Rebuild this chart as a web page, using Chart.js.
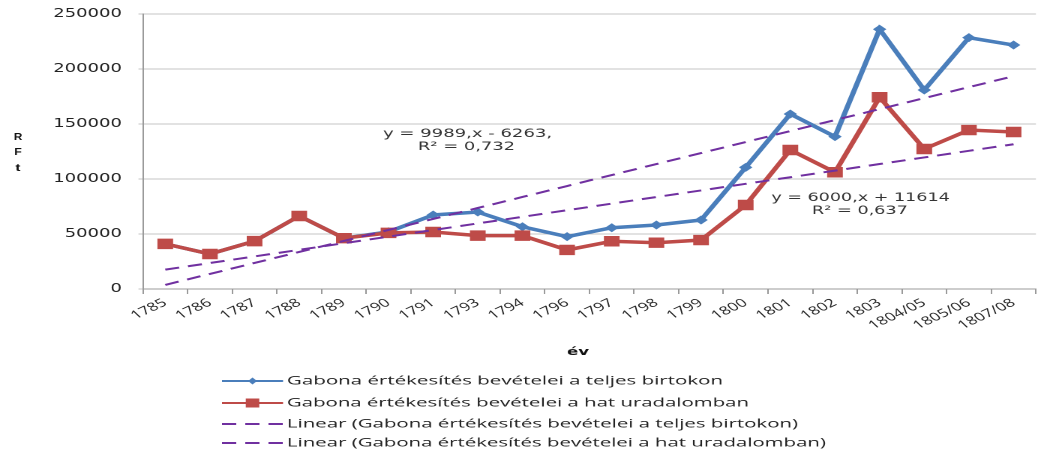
<!DOCTYPE html>
<html>
<head>
<meta charset="utf-8">
<script src="https://cdn.jsdelivr.net/npm/chart.js@4.4.1/dist/chart.umd.min.js"></script>
<style>
  html, body { margin: 0; padding: 0; background: #fff; overflow: hidden; }
  /* the source picture is stretched sideways, so draw narrow and widen */
  #wrap { width: 698px; height: 452px; transform: scaleX(1.5); transform-origin: 0 0; }
</style>
</head>
<body>
<div id="wrap"><canvas id="chart" width="698" height="452"></canvas></div>
<script>
const years = ['1785', '1786', '1787', '1788', '1789', '1790', '1791', '1793', '1794', '1796',
  '1797', '1798', '1799', '1800', '1801', '1802', '1803', '1804/05', '1805/06', '1807/08'];

// Gabona értékesítés bevételei a teljes birtokon
const fullEstate = [41000, 31800, 43500, 66400, 46200, 52000, 67300, 70000, 56600, 47600,
  55700, 58200, 62700, 110600, 159100, 138500, 236100, 180900, 228500, 221800];

// Gabona értékesítés bevételei a hat uradalomban
const sixDomains = [41000, 31800, 43500, 66400, 46200, 51000, 51800, 48500, 48500, 35500,
  43400, 42100, 44500, 76400, 126400, 106100, 174300, 127300, 144500, 142700];

// trendlines as printed on the chart
const fullTrend = { slope: 9989, intercept: -6263 };
const sixTrend = { slope: 6000, intercept: 11614 };

const yTickValues = [0, 50000, 100000, 150000, 200000, 250000];

const seriesNames = [
  'Gabona értékesítés bevételei a teljes birtokon',
  'Gabona értékesítés bevételei a hat uradalomban',
  'Linear (Gabona értékesítés bevételei a teljes birtokon)',
  'Linear (Gabona értékesítés bevételei a hat uradalomban)'
];

const blue = '#4A7EBB';
const red = '#BE4B48';
const purple = '#7030A0';

const fullTrendLine = years.map((y, i) => fullTrend.slope * (i + 1) + fullTrend.intercept);
const sixTrendLine = years.map((y, i) => sixTrend.slope * (i + 1) + sixTrend.intercept);

function drawText(ctx, str, x, y, font, width, align) {
  ctx.save();
  ctx.font = font;
  ctx.textBaseline = 'middle';
  ctx.textAlign = 'left';
  const w = ctx.measureText(str).width;
  const sx = width ? width / w : 1;
  const left = align === 'center' ? x - w * sx / 2 : x;
  ctx.translate(left, y);
  ctx.scale(sx, 1);
  ctx.fillText(str, 0, 0);
  ctx.restore();
}

const extras = {
  id: 'extras',
  afterDraw(chart) {
    const ctx = chart.ctx;
    ctx.save();

    // y axis title, one letter per line
    ctx.fillStyle = '#111';
    drawText(ctx, 'R', 12, 137, 'bold 10px "Liberation Sans"', 5.6, 'center');
    drawText(ctx, 'F', 12, 152, 'bold 10px "Liberation Sans"', 5.0, 'center');
    drawText(ctx, 't', 12, 168, 'bold 10px "Liberation Sans"', 3.4, 'center');

    // x axis title
    drawText(ctx, 'év', 385.3, 352, 'bold 11px "DejaVu Sans"', 14.7, 'center');

    // trendline equations
    ctx.fillStyle = '#333';
    drawText(ctx, 'y = 9989,x - 6263,', 311.7, 134, '11.5px "DejaVu Sans"', 112.7, 'center');
    drawText(ctx, 'R² = 0,732', 311, 147, '11.5px "DejaVu Sans"', 64.7, 'center');
    drawText(ctx, 'y = 6000,x + 11614', 573.7, 198, '11.5px "DejaVu Sans"', 119, 'center');
    drawText(ctx, 'R² = 0,637', 573.3, 211, '11.5px "DejaVu Sans"', 64, 'center');

    // legend
    const rows = [381, 403, 424, 443];
    const widths = [290.7, 308, 340.7, 359.3];
    const x0 = 148, x1 = 188.7, xm = (x0 + x1) / 2;

    ctx.lineWidth = 2;
    ctx.strokeStyle = blue;
    ctx.beginPath(); ctx.moveTo(x0, rows[0]); ctx.lineTo(x1, rows[0]); ctx.stroke();
    ctx.fillStyle = blue;
    ctx.beginPath();
    ctx.moveTo(xm, rows[0] - 3.5); ctx.lineTo(xm + 3, rows[0]);
    ctx.lineTo(xm, rows[0] + 3.5); ctx.lineTo(xm - 3, rows[0]);
    ctx.closePath(); ctx.fill();

    ctx.strokeStyle = red;
    ctx.beginPath(); ctx.moveTo(x0, rows[1]); ctx.lineTo(x1, rows[1]); ctx.stroke();
    ctx.fillStyle = red;
    ctx.fillRect(xm - 4.5, rows[1] - 4.5, 9, 9);

    ctx.strokeStyle = purple;
    ctx.setLineDash([9.5, 6]);
    [rows[2], rows[3]].forEach(r => {
      ctx.beginPath(); ctx.moveTo(x0, r); ctx.lineTo(x1, r); ctx.stroke();
    });
    ctx.setLineDash([]);

    ctx.fillStyle = '#222';
    seriesNames.forEach((name, i) => {
      drawText(ctx, name, 191.3, rows[i], '11.5px "Open Sans"', widths[i], 'left');
    });

    ctx.restore();
  }
};

new Chart(document.getElementById('chart'), {
  type: 'line',
  data: {
    labels: years,
    datasets: [
      {
        label: seriesNames[2],
        data: fullTrendLine,
        borderColor: purple,
        borderWidth: 2,
        borderDash: [9.5, 6],
        pointRadius: 0,
        tension: 0,
        order: 0
      },
      {
        label: seriesNames[3],
        data: sixTrendLine,
        borderColor: purple,
        borderWidth: 2,
        borderDash: [9.5, 6],
        pointRadius: 0,
        tension: 0,
        order: 0
      },
      {
        label: seriesNames[1],
        data: sixDomains,
        borderColor: red,
        backgroundColor: red,
        borderWidth: 3.5,
        pointStyle: 'rect',
        pointRadius: 7.4,
        pointBorderWidth: 0,
        tension: 0,
        order: 1
      },
      {
        label: seriesNames[0],
        data: fullEstate,
        borderColor: blue,
        backgroundColor: blue,
        borderWidth: 3.5,
        pointStyle: 'rectRot',
        pointRadius: 4.5,
        pointBorderWidth: 0,
        tension: 0,
        order: 2
      }
    ]
  },
  options: {
    responsive: false,
    animation: false,
    devicePixelRatio: 2,
    layout: { padding: { top: 14, right: 0, bottom: 0, left: 0 } },
    plugins: {
      legend: { display: false },
      tooltip: { enabled: false }
    },
    scales: {
      x: {
        type: 'category',
        offset: true,
        afterFit: scale => { scale.height = 163; },
        grid: {
          offset: true,
          drawOnChartArea: false,
          drawTicks: true,
          tickLength: 5,
          color: '#9a9a9a'
        },
        border: { display: true, color: '#9a9a9a' },
        ticks: {
          autoSkip: false,
          minRotation: 35,
          maxRotation: 35,
          padding: 2,
          color: '#222',
          font: { family: 'Open Sans', size: 11.5 }
        }
      },
      y: {
        min: 0,
        max: 250000,
        afterFit: scale => {
          scale.width = 95.3;
          scale.paddingTop = 0;
          scale.paddingBottom = 0;
        },
        afterBuildTicks: scale => { scale.ticks = yTickValues.map(v => ({ value: v })); },
        grid: {
          color: '#c4c4c4',
          drawTicks: true,
          tickLength: 3
        },
        border: { display: true, color: '#9a9a9a' },
        ticks: {
          padding: 11,
          color: '#222',
          font: { family: 'DejaVu Sans', size: 12 },
          callback: v => String(v)
        }
      }
    }
  },
  plugins: [extras]
});
</script>
</body>
</html>
